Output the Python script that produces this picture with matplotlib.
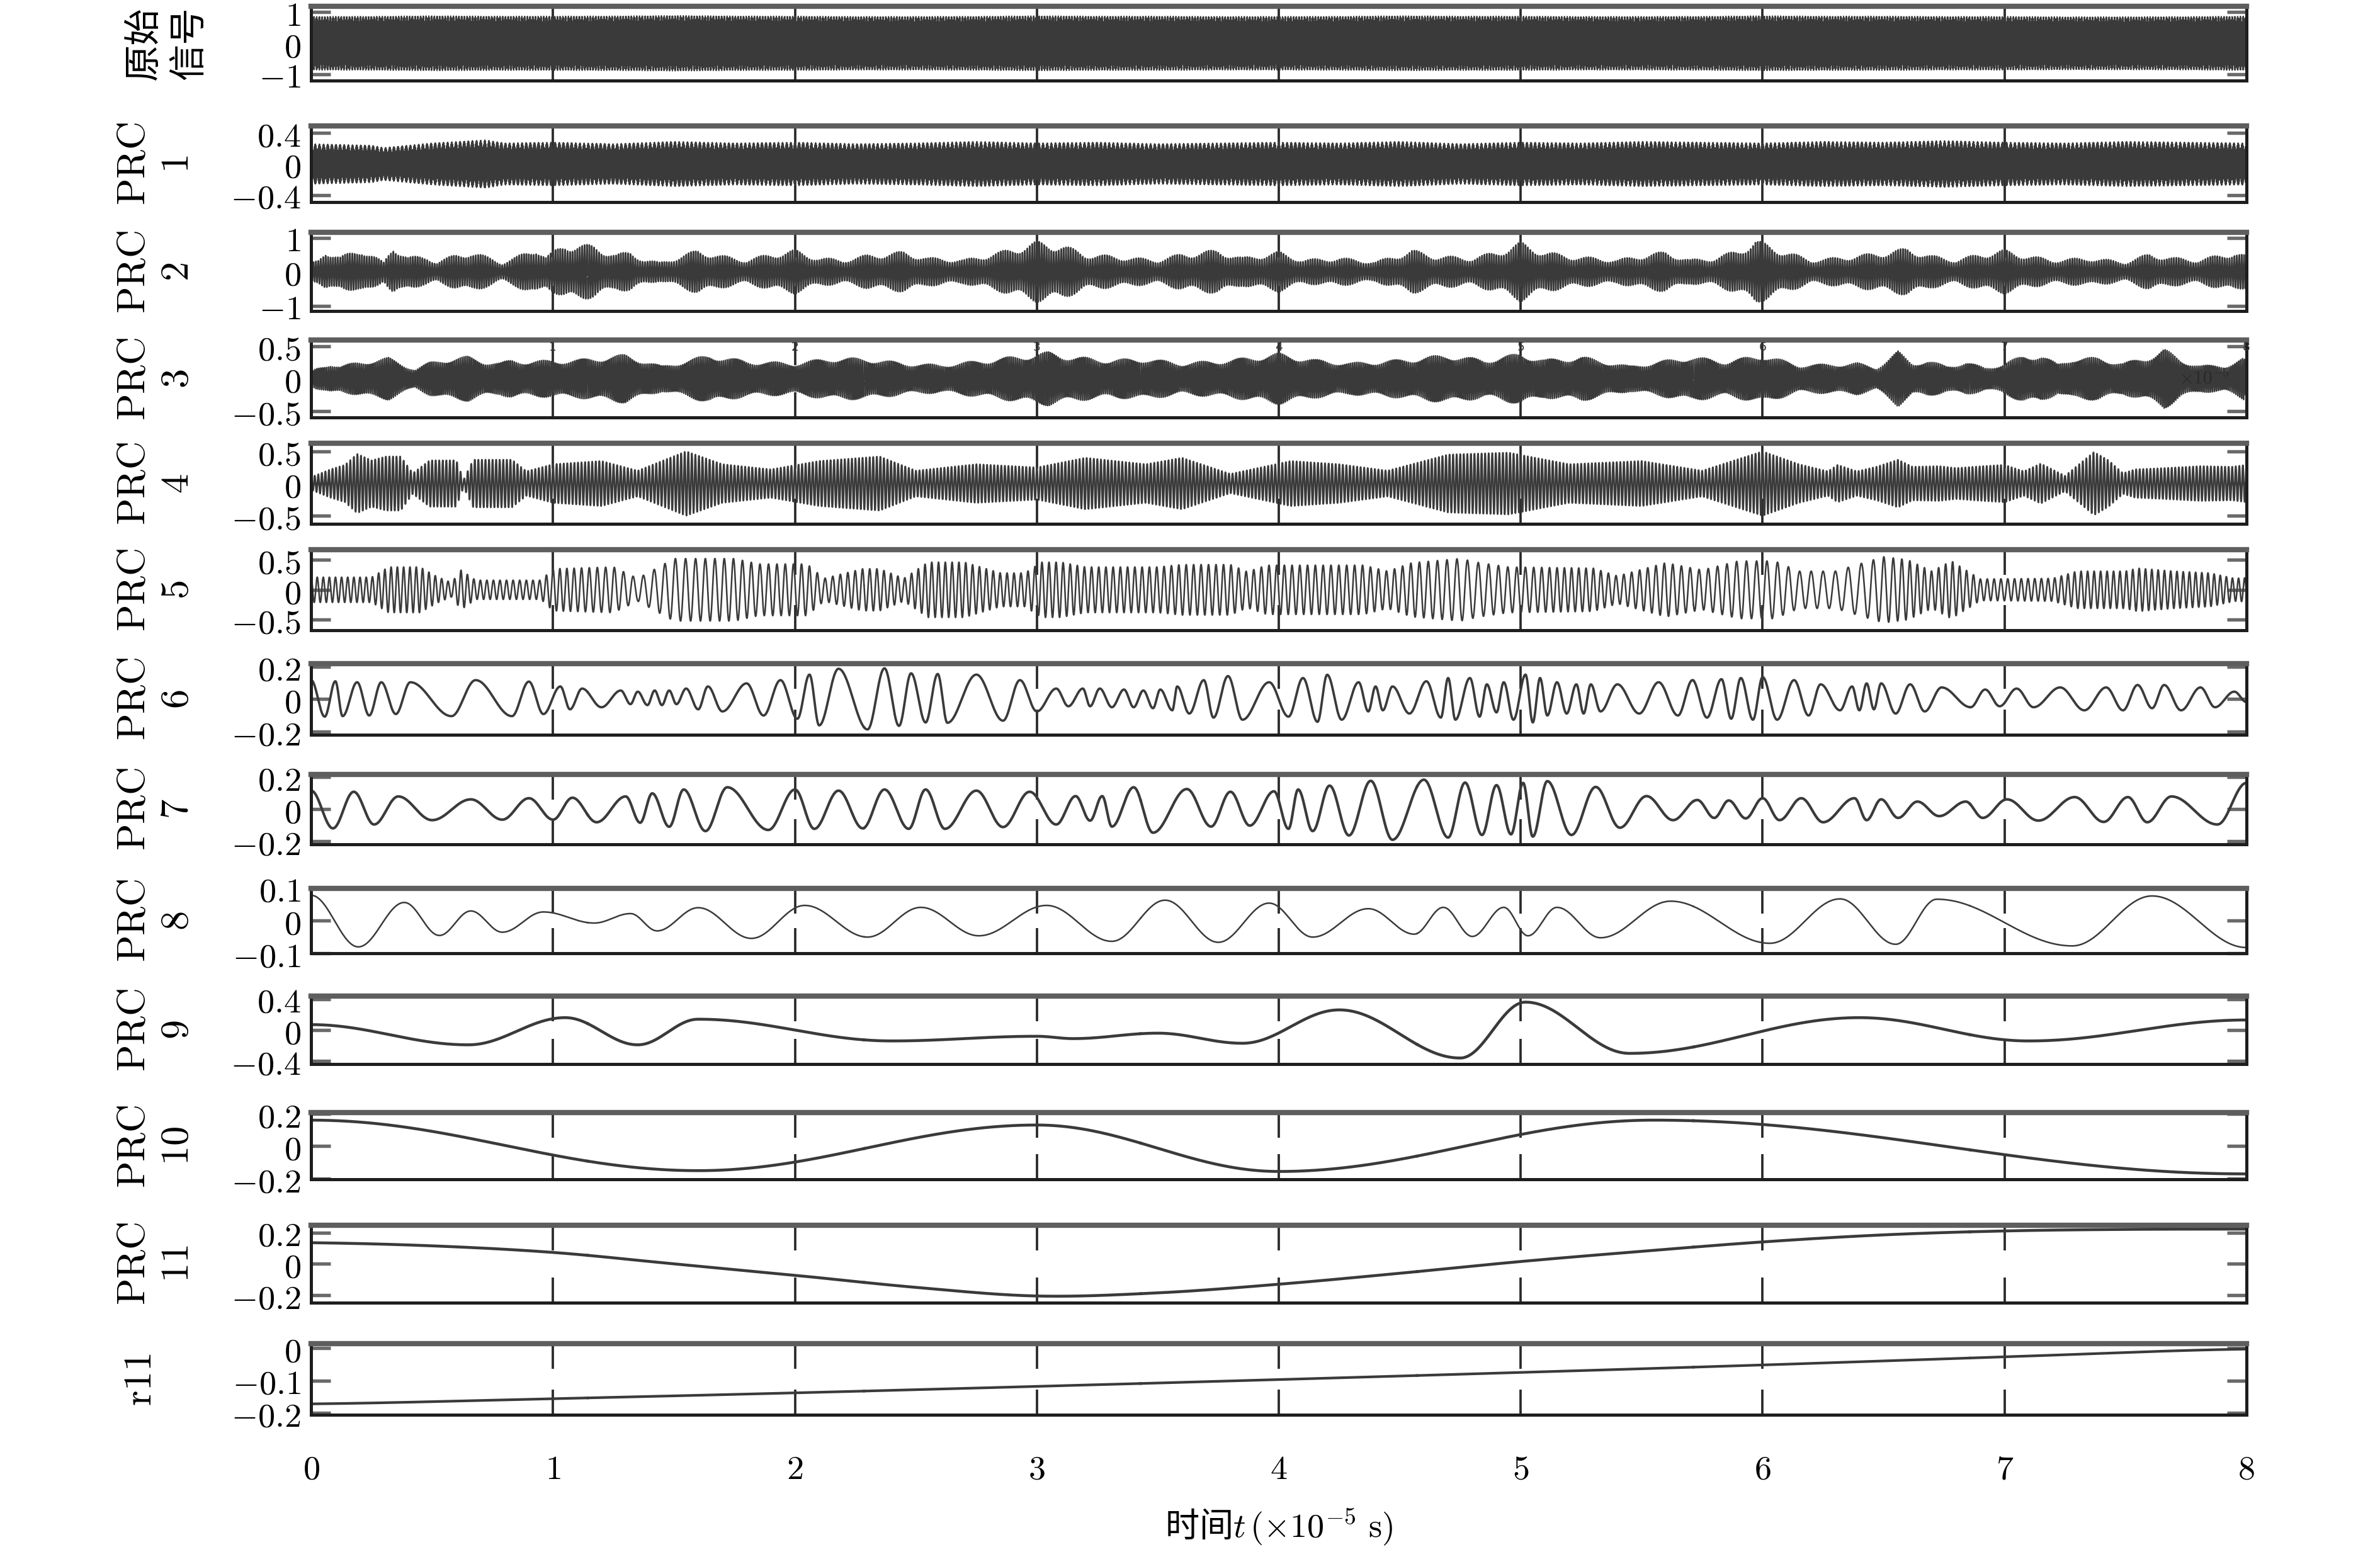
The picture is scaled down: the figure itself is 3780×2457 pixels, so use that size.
import numpy as np
import matplotlib
matplotlib.use("Agg")
import matplotlib.pyplot as plt
from matplotlib.ticker import FixedLocator, FixedFormatter

plt.rcParams['mathtext.fontset'] = 'cm'
plt.rcParams['font.family'] = ['Noto Sans CJK SC', 'DejaVu Sans']
plt.rcParams['agg.path.chunksize'] = 20000

# ---------------- data ----------------
# dense components: amplitude envelope knots (t, amplitude) and carrier (cycles per unit t)
orig_env = [(0, 0.86), (0.5, 0.88), (1, 0.87), (1.5, 0.89), (2, 0.87), (2.5, 0.86), (3, 0.88),
            (3.5, 0.87), (4, 0.86), (4.5, 0.88), (5, 0.87), (5.5, 0.86), (6, 0.88), (6.5, 0.87),
            (7, 0.86), (7.5, 0.85), (8, 0.87)]
orig_freq = [(0, 520), (8, 520)]

prc1_env = [(0, 0.26), (0.25, 0.24), (0.3, 0.21), (0.5, 0.27), (0.72, 0.31), (0.8, 0.27),
            (1.0, 0.28), (1.25, 0.26), (1.5, 0.29), (1.75, 0.27), (2.0, 0.28), (2.25, 0.26),
            (2.5, 0.27), (2.75, 0.29), (3.0, 0.27), (3.25, 0.28), (3.5, 0.26), (3.75, 0.27),
            (4.0, 0.28), (4.25, 0.27), (4.5, 0.29), (4.75, 0.26), (5.0, 0.28), (5.25, 0.27),
            (5.5, 0.29), (5.75, 0.28), (6.0, 0.27), (6.25, 0.29), (6.5, 0.28), (6.75, 0.30),
            (7.0, 0.28), (7.25, 0.27), (7.5, 0.29), (7.75, 0.28), (8.0, 0.27)]
prc1_freq = [(0, 450), (8, 450)]

prc2_env = [(0, 0.25), (0.03, 0.36), (0.06, 0.66), (0.12, 0.45), (0.21, 0.7), (0.25, 0.52),
            (0.30, 0.28), (0.34, 0.8), (0.40, 0.45), (0.48, 0.45), (0.52, 0.3), (0.60, 0.52),
            (0.66, 0.6), (0.75, 0.4), (0.79, 0.28), (0.85, 0.45), (0.93, 0.74), (0.97, 0.45),
            (1.05, 0.85), (1.17, 0.78), (1.26, 0.52), (1.32, 0.6), (1.38, 0.37), (1.44, 0.28),
            (1.6, 0.65), (1.7, 0.48), (1.8, 0.36), (1.9, 0.54), (2.0, 0.65), (2.1, 0.42),
            (2.2, 0.36), (2.3, 0.5), (2.45, 0.6), (2.55, 0.42), (2.7, 0.36), (2.85, 0.6),
            (3.0, 0.9), (3.1, 0.82), (3.2, 0.54), (3.3, 0.48), (3.5, 0.36), (3.6, 0.54),
            (3.75, 0.65), (3.85, 0.42), (4.0, 0.6), (4.1, 0.36), (4.25, 0.42), (4.4, 0.3),
            (4.55, 0.65), (4.65, 0.48), (4.8, 0.42), (4.9, 0.6), (5.0, 0.88), (5.1, 0.6),
            (5.2, 0.48), (5.4, 0.36), (5.5, 0.5), (5.6, 0.6), (5.7, 0.36), (5.8, 0.42),
            (5.9, 0.65), (5.97, 0.95), (6.1, 0.6), (6.2, 0.36), (6.3, 0.42), (6.45, 0.54),
            (6.6, 0.7), (6.7, 0.48), (6.8, 0.36), (6.9, 0.54), (7.0, 0.65), (7.1, 0.48),
            (7.2, 0.36), (7.35, 0.42), (7.5, 0.3), (7.6, 0.54), (7.7, 0.42), (7.8, 0.36),
            (7.95, 0.6), (8.0, 0.48)]
prc2_freq = [(0, 100), (8, 100)]

prc3_env = [(0, 0.11), (0.02, 0.16), (0.08, 0.25), (0.12, 0.2), (0.19, 0.26), (0.25, 0.3),
            (0.32, 0.33), (0.37, 0.25), (0.43, 0.15), (0.49, 0.26), (0.54, 0.31), (0.65, 0.35),
            (0.72, 0.28), (0.78, 0.25), (0.83, 0.3), (0.9, 0.28), (1.1, 0.3), (1.3, 0.38),
            (1.45, 0.2), (1.65, 0.38), (1.8, 0.28), (2.0, 0.25), (2.15, 0.33), (2.3, 0.32),
            (2.45, 0.25), (2.6, 0.22), (2.8, 0.3), (3.05, 0.42), (3.15, 0.35), (3.3, 0.3),
            (3.45, 0.32), (3.6, 0.25), (3.8, 0.3), (4.0, 0.4), (4.15, 0.3), (4.3, 0.25),
            (4.5, 0.3), (4.7, 0.38), (4.85, 0.3), (5.0, 0.4), (5.1, 0.3), (5.25, 0.35),
            (5.45, 0.2), (5.7, 0.35), (5.85, 0.28), (6.0, 0.38), (6.15, 0.22), (6.27, 0.23),
            (6.39, 0.25), (6.47, 0.18), (6.56, 0.43), (6.62, 0.26), (6.68, 0.28), (6.76, 0.21),
            (6.84, 0.26), (6.92, 0.18), (6.99, 0.23), (7.08, 0.37), (7.15, 0.38), (7.22, 0.23),
            (7.28, 0.33), (7.39, 0.33), (7.49, 0.25), (7.58, 0.33), (7.66, 0.47), (7.73, 0.3),
            (7.81, 0.21), (7.91, 0.21), (7.99, 0.33), (8.0, 0.2)]
prc3_freq = [(0, 125), (8, 125)]

prc4_env = [(0, 0.1), (0.08, 0.22), (0.14, 0.29), (0.19, 0.46), (0.25, 0.36), (0.31, 0.42),
            (0.37, 0.42), (0.42, 0.16), (0.49, 0.36), (0.6, 0.36), (0.63, 0.06), (0.67, 0.37),
            (0.83, 0.37), (0.89, 0.19), (1.0, 0.3), (1.2, 0.35), (1.35, 0.2), (1.55, 0.5),
            (1.7, 0.3), (1.9, 0.22), (2.1, 0.35), (2.35, 0.42), (2.5, 0.2), (2.75, 0.3),
            (3.0, 0.25), (3.2, 0.4), (3.45, 0.3), (3.6, 0.4), (3.8, 0.15), (4.05, 0.35),
            (4.25, 0.3), (4.45, 0.2), (4.7, 0.45), (4.95, 0.48), (5.2, 0.3), (5.5, 0.35),
            (5.75, 0.2), (6.0, 0.5), (6.15, 0.3), (6.27, 0.19), (6.31, 0.29), (6.39, 0.19),
            (6.47, 0.26), (6.56, 0.37), (6.62, 0.26), (6.73, 0.27), (6.8, 0.24), (6.91, 0.27),
            (7.0, 0.29), (7.08, 0.19), (7.15, 0.31), (7.25, 0.12), (7.37, 0.49), (7.43, 0.36),
            (7.49, 0.16), (7.54, 0.22), (7.66, 0.24), (7.81, 0.27), (7.94, 0.26), (8.0, 0.29)]
prc4_freq = [(0, 68), (8, 68)]

prc5_env = [(0, 0.21), (0.25, 0.21), (0.32, 0.38), (0.45, 0.38), (0.52, 0.22), (0.58, 0.12),
            (0.62, 0.33), (0.68, 0.16), (0.95, 0.16), (1.0, 0.35), (1.25, 0.38), (1.35, 0.19),
            (1.5, 0.52), (1.75, 0.52), (1.85, 0.43), (2.05, 0.43), (2.12, 0.19), (2.28, 0.35),
            (2.35, 0.35), (2.45, 0.19), (2.55, 0.46), (2.7, 0.46), (2.85, 0.28), (2.95, 0.28),
            (3.02, 0.46), (3.1, 0.46), (3.2, 0.38), (3.5, 0.38), (3.6, 0.42), (3.8, 0.42),
            (3.87, 0.3), (3.95, 0.41), (4.35, 0.41), (4.45, 0.31), (4.55, 0.45), (4.75, 0.52),
            (4.83, 0.45), (4.95, 0.38), (5.3, 0.36), (5.4, 0.23), (5.6, 0.45), (5.75, 0.33),
            (5.9, 0.48), (6.05, 0.48), (6.15, 0.31), (6.3, 0.31), (6.5, 0.55), (6.6, 0.5),
            (6.7, 0.31), (6.78, 0.48), (6.9, 0.18), (7.2, 0.19), (7.3, 0.31), (7.5, 0.31),
            (7.55, 0.36), (7.7, 0.31), (7.85, 0.28), (7.95, 0.19), (8.0, 0.2)]
prc5_freq = [(0, 40), (1.0, 36), (1.4, 22), (1.85, 28), (2.5, 36), (4.5, 30), (4.8, 22),
             (5.2, 34), (6.4, 18), (6.65, 34), (8, 40)]

# slower components: successive extrema (t, value)
prc6_ext = [(0, 0.117), (0.056, -0.108), (0.10, 0.110), (0.13, -0.105), (0.19, 0.104),
            (0.24, -0.101), (0.29, 0.104), (0.35, -0.092), (0.41, 0.104), (0.58, -0.105),
            (0.68, 0.117), (0.83, -0.105), (0.90, 0.108), (0.96, -0.092), (1.03, 0.078),
            (1.07, -0.063), (1.12, 0.065), (1.20, -0.050), (1.28, 0.053), (1.32, -0.031),
            (1.35, 0.046), (1.39, -0.037), (1.42, 0.053), (1.45, -0.037), (1.48, 0.053),
            (1.51, -0.031), (1.55, 0.065), (1.60, -0.063), (1.64, 0.078), (1.70, -0.076),
            (1.80, 0.097), (1.87, -0.101), (1.94, 0.117), (2.01, -0.121), (2.06, 0.151),
            (2.10, -0.162), (2.18, 0.187), (2.30, -0.187), (2.37, 0.190), (2.43, -0.165),
            (2.48, 0.159), (2.54, -0.144), (2.59, 0.155), (2.63, -0.146), (2.75, 0.151),
            (2.86, -0.133), (2.93, 0.117), (3.00, -0.076), (3.08, 0.065), (3.13, -0.044),
            (3.19, 0.065), (3.22, -0.044), (3.26, 0.065), (3.31, -0.050), (3.36, 0.059),
            (3.40, -0.050), (3.44, 0.053), (3.48, -0.056), (3.51, 0.059), (3.56, -0.069),
            (3.58, 0.078), (3.63, -0.089), (3.69, 0.117), (3.73, -0.114), (3.79, 0.142),
            (3.85, -0.127), (3.96, 0.104), (4.04, -0.108), (4.10, 0.130), (4.16, -0.140),
            (4.20, 0.150), (4.26, -0.127), (4.33, 0.104), (4.37, -0.076), (4.40, 0.078),
            (4.43, -0.069), (4.47, 0.078), (4.54, -0.089), (4.61, 0.110), (4.67, -0.114),
            (4.70, 0.130), (4.73, -0.127), (4.79, 0.130), (4.83, -0.108), (4.86, 0.091),
            (4.90, -0.082), (4.93, 0.104), (4.97, -0.127), (5.02, 0.151), (5.05, -0.144),
            (5.08, 0.130), (5.11, -0.101), (5.15, 0.104), (5.19, -0.089), (5.23, 0.091),
            (5.26, -0.089), (5.29, 0.091), (5.33, -0.076), (5.40, 0.091), (5.49, -0.089),
            (5.57, 0.104), (5.65, -0.101), (5.71, 0.117), (5.77, -0.114), (5.83, 0.123),
            (5.87, -0.121), (5.91, 0.130), (5.96, -0.127), (6.00, 0.136), (6.06, -0.127),
            (6.13, 0.117), (6.19, -0.101), (6.24, 0.091), (6.32, -0.069), (6.37, 0.078),
            (6.40, -0.069), (6.43, 0.097), (6.46, -0.063), (6.49, 0.097), (6.55, -0.089),
            (6.61, 0.091), (6.67, -0.076), (6.74, 0.072), (6.86, -0.050), (6.92, 0.059),
            (6.98, -0.044), (7.05, 0.065), (7.12, -0.050), (7.23, 0.072), (7.33, -0.069),
            (7.42, 0.072), (7.49, -0.069), (7.55, 0.087), (7.61, -0.056), (7.66, 0.087),
            (7.73, -0.069), (7.81, 0.072), (7.87, -0.050), (7.95, 0.046), (8.0, -0.018)]

prc7_ext = [(0, 0.115), (0.09, -0.119), (0.176, 0.108), (0.26, -0.095), (0.36, 0.079),
            (0.50, -0.068), (0.66, 0.061), (0.79, -0.065), (0.90, 0.068), (1.00, -0.065),
            (1.08, 0.071), (1.18, -0.081), (1.30, 0.079), (1.36, -0.084), (1.41, 0.098),
            (1.48, -0.109), (1.54, 0.122), (1.63, -0.136), (1.72, 0.136), (1.89, -0.129),
            (2.00, 0.122), (2.08, -0.122), (2.18, 0.115), (2.28, -0.119), (2.37, 0.122),
            (2.47, -0.122), (2.54, 0.122), (2.62, -0.122), (2.75, 0.115), (2.86, -0.111),
            (2.97, 0.108), (3.08, -0.095), (3.16, 0.081), (3.22, -0.071), (3.27, 0.081),
            (3.31, -0.108), (3.40, 0.136), (3.48, -0.146), (3.62, 0.125), (3.72, -0.108),
            (3.80, 0.108), (3.88, -0.102), (3.98, 0.111), (4.04, -0.122), (4.08, 0.122),
            (4.14, -0.136), (4.21, 0.146), (4.29, -0.163), (4.38, 0.176), (4.47, -0.190),
            (4.60, 0.183), (4.70, -0.176), (4.77, 0.165), (4.84, -0.160), (4.90, 0.149),
            (4.96, -0.156), (5.01, 0.163), (5.05, -0.170), (5.11, 0.174), (5.21, -0.160),
            (5.31, 0.138), (5.41, -0.115), (5.52, 0.081), (5.63, -0.068), (5.73, 0.057),
            (5.80, -0.054), (5.86, 0.054), (5.93, -0.057), (6.00, 0.068), (6.07, -0.068),
            (6.16, 0.068), (6.25, -0.081), (6.38, 0.068), (6.43, -0.068), (6.49, 0.061),
            (6.56, -0.054), (6.64, 0.047), (6.73, -0.043), (6.84, 0.047), (6.91, -0.054),
            (7.01, 0.061), (7.14, -0.071), (7.29, 0.075), (7.41, -0.079), (7.51, 0.075),
            (7.59, -0.081), (7.69, 0.079), (7.88, -0.095), (8.0, 0.163)]

prc8_ext = [(0.0, 0.078), (0.195, -0.080), (0.385, 0.056), (0.53, -0.045), (0.66, 0.030),
            (0.79, -0.035), (0.96, 0.027), (1.17, -0.007), (1.32, 0.022), (1.43, -0.031),
            (1.60, 0.040), (1.82, -0.054), (2.04, 0.047), (2.30, -0.050), (2.52, 0.041),
            (2.76, -0.046), (3.04, 0.047), (3.31, -0.063), (3.53, 0.063), (3.75, -0.066),
            (3.96, 0.054), (4.14, -0.050), (4.37, 0.037), (4.56, -0.041), (4.68, 0.041),
            (4.80, -0.048), (4.93, 0.041), (5.03, -0.046), (5.15, 0.041), (5.33, -0.052),
            (5.62, 0.060), (6.03, -0.069), (6.32, 0.067), (6.55, -0.072), (6.72, 0.066),
            (7.28, -0.077), (7.61, 0.076), (8.0, -0.082)]

prc9_ext = [(0, 0.07), (0.65, -0.19), (1.05, 0.16), (1.35, -0.19), (1.6, 0.14), (2.4, -0.14),
            (3.0, -0.08), (3.15, -0.11), (3.5, -0.04), (3.85, -0.17), (4.25, 0.26),
            (4.75, -0.36), (5.02, 0.36), (5.45, -0.3), (6.4, 0.16), (7.1, -0.14), (8.0, 0.13)]

prc10_ext = [(0, 0.16), (1.6, -0.15), (3.0, 0.13), (4.0, -0.155), (5.55, 0.16), (8.0, -0.17)]

prc11_t = [0, 0.5, 1, 1.5, 2, 2.5, 3, 3.5, 4, 4.5, 5, 5.5, 6, 6.5, 7, 7.5, 8]
prc11_v = [0.135, 0.115, 0.073, 0.0, -0.073, -0.15, -0.205, -0.185, -0.13, -0.06, 0.015, 0.08,
           0.14, 0.185, 0.21, 0.22, 0.222]

r11_t = [0, 1, 2, 3, 4, 5, 6, 7, 8]
r11_v = [-0.172, -0.156, -0.138, -0.118, -0.097, -0.075, -0.052, -0.027, -0.003]

panel_labels = ['原始\n信号'] + [r'$\mathrm{PRC}$' + '\n' + '$%d$' % k for k in range(1, 12)] + [r'$\mathrm{r11}$']
ylims = [(-1.2, 1.2), (-0.49, 0.49), (-1.16, 1.16), (-0.6, 0.6), (-0.625, 0.625), (-0.67, 0.67),
         (-0.22, 0.22), (-0.217, 0.217), (-0.1, 0.1), (-0.44, 0.44), (-0.205, 0.205),
         (-0.247, 0.247), (-0.206, 0.014)]
yticks = [[-1, 0, 1], [-0.4, 0, 0.4], [-1, 0, 1], [-0.5, 0, 0.5], [-0.5, 0, 0.5], [-0.5, 0, 0.5],
          [-0.2, 0, 0.2], [-0.2, 0, 0.2], [-0.1, 0, 0.1], [-0.4, 0, 0.4], [-0.2, 0, 0.2],
          [-0.2, 0, 0.2], [-0.2, -0.1, 0]]
xticks = [0, 1, 2, 3, 4, 5, 6, 7, 8]

# ---------------- helpers ----------------
t = np.linspace(0, 8, 120001)


def dense(env, freq, weights=(1.0,), ratios=(1.0,)):
    et, ev = np.array(env, dtype=float).T
    ft, fv = np.array(freq, dtype=float).T
    amp = np.interp(t, et, ev)
    f = np.interp(t, ft, fv)
    ph = 2 * np.pi * np.concatenate([[0], np.cumsum(0.5 * (f[1:] + f[:-1]) * np.diff(t))])
    c = sum(w * np.cos(r * ph) for w, r in zip(weights, ratios))
    return amp * c


def through_extrema(ext):
    px, py = np.array(ext, dtype=float).T
    i = np.clip(np.searchsorted(px, t, side='right') - 1, 0, len(px) - 2)
    f = (t - px[i]) / (px[i + 1] - px[i])
    w = 0.5 - 0.5 * np.cos(np.pi * f)
    return py[i] + (py[i + 1] - py[i]) * w


def smooth_through(px, py):
    # Catmull-Rom curve through evenly spaced read-off points
    px, py = np.asarray(px, float), np.asarray(py, float)
    n = len(px)
    i = np.clip(np.searchsorted(px, t, side='right') - 1, 0, n - 2)
    u = (t - px[i]) / (px[i + 1] - px[i])
    p0 = py[np.clip(i - 1, 0, n - 1)]
    p1 = py[i]
    p2 = py[i + 1]
    p3 = py[np.clip(i + 2, 0, n - 1)]
    return 0.5 * (2 * p1 + (p2 - p0) * u + (2 * p0 - 5 * p1 + 4 * p2 - p3) * u ** 2
                  + (3 * p1 - p0 - 3 * p2 + p3) * u ** 3)


series = [
    dense(orig_env, orig_freq, (0.85, 0.15), (1.0, 1.17)),
    dense(prc1_env, prc1_freq, (0.8, 0.2), (1.0, 1.13)),
    dense(prc2_env, prc2_freq, (0.85, 0.15), (1.0, 1.07)),
    dense(prc3_env, prc3_freq, (0.88, 0.12), (1.0, 1.05)),
    dense(prc4_env, prc4_freq),
    dense(prc5_env, prc5_freq),
    through_extrema(prc6_ext),
    through_extrema(prc7_ext),
    through_extrema(prc8_ext),
    through_extrema(prc9_ext),
    through_extrema(prc10_ext),
    smooth_through(prc11_t, prc11_v),
    smooth_through(r11_t, r11_v),
]
line_w = [0.5, 0.5, 0.6, 0.55, 0.65, 0.6, 0.9, 1.0, 0.6, 1.1, 1.1, 1.1, 1.0]

# panel boxes measured in the reference (pixel rows of a 1019 px tall image)
box_top = [4, 83, 153, 224, 292, 362, 437, 510, 585, 656, 733, 807, 885]
box_bot = [53, 133, 205, 275, 345, 415, 484, 556, 628, 701, 777, 858, 932]
H = 1019.0
left, width = 205 / 1568, (1480 - 205) / 1568

fig = plt.figure(figsize=(12.6, 8.19), dpi=300)
col = '#3a3a3a'
fs_tick = 13
fs_lab = 15

axes = []
for k in range(13):
    ax = fig.add_axes([left, 1 - box_bot[k] / H, width, (box_bot[k] - box_top[k]) / H])
    axes.append(ax)
    ax.plot(t, series[k], color=col, lw=line_w[k], solid_joinstyle='round')
    ax.set_xlim(0, 8)
    ax.set_ylim(*ylims[k])

    ax.yaxis.set_major_locator(FixedLocator(yticks[k]))
    ax.yaxis.set_major_formatter(FixedFormatter(['$%g$' % v for v in yticks[k]]))
    ax.xaxis.set_major_locator(FixedLocator(xticks))
    if k == 12:
        ax.xaxis.set_major_formatter(FixedFormatter(['$%d$' % v for v in xticks]))
    else:
        ax.xaxis.set_major_formatter(FixedFormatter([''] * len(xticks)))

    ax.tick_params(axis='y', direction='in', length=7.5, width=1.3, colors='#6a6a6a',
                   left=True, right=True, labelsize=fs_tick, labelcolor='black', pad=4)
    ax.tick_params(axis='x', direction='in', length=9.5, width=0.9, colors='#2a2a2a',
                   top=True, bottom=True, labelsize=fs_tick, labelcolor='black', pad=14)

    for side in ['left', 'right', 'bottom']:
        ax.spines[side].set_color('#1e1e1e')
        ax.spines[side].set_linewidth(1.2)
    ax.spines['top'].set_color('#5e5e5e')
    ax.spines['top'].set_linewidth(2.0)

    if k == 0:
        ax.set_ylabel(panel_labels[k], fontsize=14, rotation=90, multialignment='center',
                      linespacing=1.25)
        ax.yaxis.set_label_coords(-0.053, 0.5)
    elif k == 12:
        ax.set_ylabel(panel_labels[k], fontsize=fs_lab, rotation=90)
        ax.yaxis.set_label_coords(-0.078, 0.5)
    else:
        ax.set_ylabel(panel_labels[k], fontsize=fs_lab, rotation=90, multialignment='center',
                      linespacing=1.1)
        ax.yaxis.set_label_coords(-0.059, 0.5)

# small leftover tick labels visible inside the PRC3 panel of the reference
for v in xticks[1:]:
    axes[3].text(v, 0.585, '%d' % v, fontsize=4.5, ha='center', va='top', color='#333333',
                 family='DejaVu Sans')
axes[3].text(7.93, 0.0, r'$\times10^{-5}$', fontsize=7, ha='right', va='center', color='#222222',
             alpha=0.7)

axes[12].set_xlabel(r'时间$t\,(\times10^{-5}\ \mathrm{s})$', fontsize=fs_tick, labelpad=8)

fig.savefig('out.png', dpi=300)
